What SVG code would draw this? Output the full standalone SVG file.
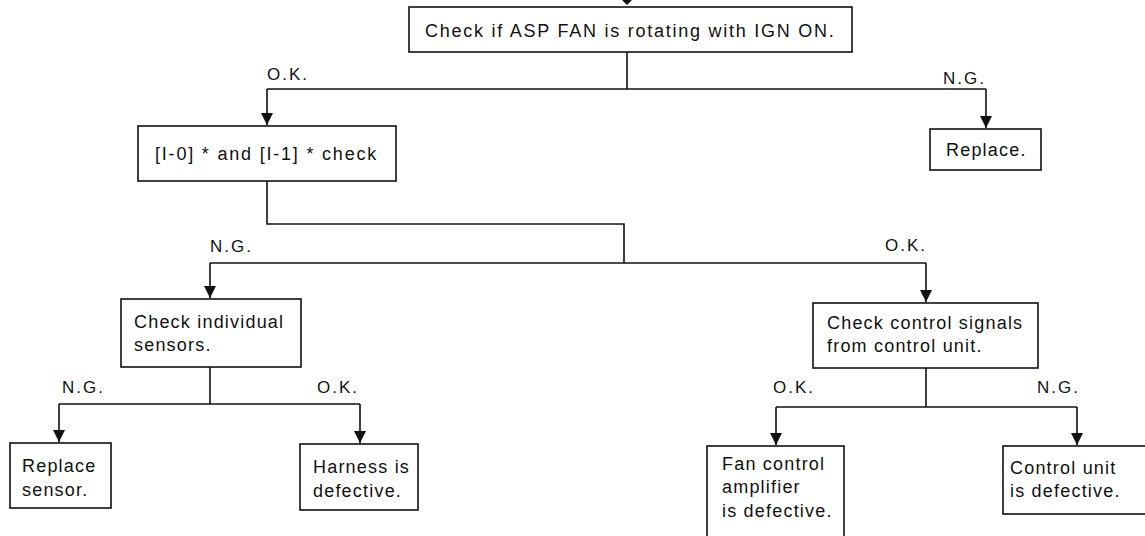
<svg xmlns="http://www.w3.org/2000/svg" width="1145" height="536" viewBox="0 0 1145 536">
<style>
.box{fill:#fff;stroke:#111;stroke-width:1.6}
.ln{fill:none;stroke:#111;stroke-width:1.6}
.t{font-family:"Liberation Sans",Arial,sans-serif;font-size:18px;fill:#111;letter-spacing:1.2px}
.lb{font-family:"Liberation Sans",Arial,sans-serif;font-size:17px;fill:#111;letter-spacing:2px}
</style>
<defs>
<marker id="ah" viewBox="0 0 12 12" refX="12" refY="6" markerWidth="12" markerHeight="12" markerUnits="userSpaceOnUse" orient="auto">
<path d="M0,0 L12,6 L0,12 Z" fill="#111"/>
</marker>
</defs>
<rect width="1145" height="536" fill="#fff"/>
<g id="connectors">
<path d="M622,0 L632,0 L627,5 Z" fill="#111"/>
<path class="ln" d="M627,52 V89"/>
<path class="ln" d="M267,89 H986"/>
<line class="ln" x1="267" y1="89" x2="267" y2="125" marker-end="url(#ah)"/>
<line class="ln" x1="986" y1="89" x2="986" y2="128" marker-end="url(#ah)"/>
<path class="ln" d="M267,181 V224 H624 V263"/>
<path class="ln" d="M210,263 H926"/>
<line class="ln" x1="210" y1="263" x2="210" y2="298" marker-end="url(#ah)"/>
<line class="ln" x1="926" y1="263" x2="926" y2="302" marker-end="url(#ah)"/>
<path class="ln" d="M210,367 V404"/>
<path class="ln" d="M59,404 H360"/>
<line class="ln" x1="59" y1="404" x2="59" y2="442" marker-end="url(#ah)"/>
<line class="ln" x1="360" y1="404" x2="360" y2="443" marker-end="url(#ah)"/>
<path class="ln" d="M926,368 V407"/>
<path class="ln" d="M776,407 H1077"/>
<line class="ln" x1="776" y1="407" x2="776" y2="445" marker-end="url(#ah)"/>
<line class="ln" x1="1077" y1="407" x2="1077" y2="445" marker-end="url(#ah)"/>
<text class="lb" x="267" y="80">O.K.</text>
<text class="lb" x="943" y="84">N.G.</text>
<text class="lb" x="210" y="252">N.G.</text>
<text class="lb" x="885" y="251">O.K.</text>
<text class="lb" x="62" y="393">N.G.</text>
<text class="lb" x="317" y="393">O.K.</text>
<text class="lb" x="773" y="393">O.K.</text>
<text class="lb" x="1037" y="393">N.G.</text>
</g>
<g id="n-top">
<rect class="box" x="409" y="7" width="443" height="45"/>
<text class="t" x="425" y="37" style="letter-spacing:1.75px">Check if ASP FAN is rotating with IGN ON.</text>
</g>
<g id="n-check">
<rect class="box" x="138" y="126" width="258" height="55"/>
<text class="t" x="155" y="160" style="letter-spacing:1.8px">[I-0] * and [I-1] * check</text>
</g>
<g id="n-replace">
<rect class="box" x="930" y="129" width="111" height="41"/>
<text class="t" x="946" y="156">Replace.</text>
</g>
<g id="n-sensors">
<rect class="box" x="121" y="299" width="180" height="68"/>
<text class="t" x="134" y="328">Check individual</text>
<text class="t" x="134" y="351">sensors.</text>
</g>
<g id="n-signals">
<rect class="box" x="813" y="303" width="225" height="65"/>
<text class="t" x="827" y="329">Check control signals</text>
<text class="t" x="827" y="352">from control unit.</text>
</g>
<g id="n-replace-sensor">
<rect class="box" x="10" y="443" width="101" height="65"/>
<text class="t" x="22" y="472">Replace</text>
<text class="t" x="22" y="496">sensor.</text>
</g>
<g id="n-harness">
<rect class="box" x="300" y="444" width="118" height="66"/>
<text class="t" x="313" y="473">Harness is</text>
<text class="t" x="313" y="497">defective.</text>
</g>
<g id="n-amplifier">
<rect class="box" x="707" y="446" width="137" height="100"/>
<text class="t" x="722" y="470">Fan control</text>
<text class="t" x="722" y="493">amplifier</text>
<text class="t" x="722" y="517">is defective.</text>
</g>
<g id="n-unit">
<rect class="box" x="1003" y="446" width="150" height="68"/>
<text class="t" x="1010" y="474">Control unit</text>
<text class="t" x="1010" y="497">is defective.</text>
</g>
</svg>
